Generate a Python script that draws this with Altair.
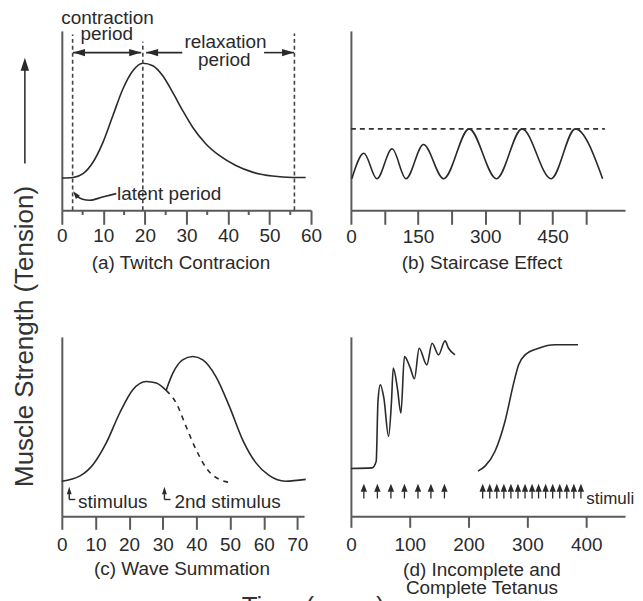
import altair as alt
import pandas as pd

FONT = "Liberation Sans"
INK = "#2a2a2a"
AXC = "#5a5a5a"

# ---------------- (a) twitch contraction ----------------
a_t = [0, 2.7, 5.1, 7.5, 9.9, 12.3, 14.7, 17.1, 19.5, 21.9, 24.3, 26.7, 29.1, 31.5, 34.7, 37.9, 41.9, 45.9, 50.7, 55.5, 58.7]
a_y = [18.0, 18.3, 20.4, 26.8, 37.9, 52.8, 67.6, 77.8, 82.0, 80.6, 75.0, 65.7, 55.6, 46.3, 37.0, 30.6, 25.0, 21.3, 19.1, 18.3, 18.3]
a_ticks = [0, 10, 20, 30, 40, 50, 60]
a_minor = [5, 15, 25, 35, 45, 55]
a_dash_t = [2.6, 19.5, 56.0]
a_dash_top = [98.0, 94.0, 98.5]
a_arrow_from = [2.7, 20.3, 48.7]
a_arrow_to = [19.1, 29.0, 55.9]
a_arrow_y = 87.9
a_head_left = [2.7, 20.3]
a_head_right = [19.1, 55.9]
a_labels = ["contraction", "period", "relaxation", "period"]
a_label_t = [11.0, 10.8, 39.4, 39.1]
a_label_y = [103.6, 94.8, 90.4, 80.2]
latent_t = [3.6, 5.0, 6.7, 9.8, 13.1]
latent_y = [7.8, 6.2, 5.6, 7.4, 9.3]
latent_tip = (2.7, 10.7)
latent_text = (13.3, 5.9)
ytitle_arrow_t = -8.9
ytitle_arrow_y = [26.1, 79.0]
ytitle_arrow_tip = 85.0

# ---------------- (b) staircase ----------------
b_t = [2, 29, 58, 92, 123, 162, 207, 264, 325, 382, 447, 501, 562]
b_y = [17.6, 31.8, 17.6, 34.3, 17.6, 36.7, 17.6, 45.4, 17.6, 45.4, 17.6, 45.4, 17.6]
b_ticks = [0, 75, 150, 225, 300, 375, 450, 525]
b_dash_t = [0, 567]
b_dash_y = 45.4

# ---------------- (c) wave summation ----------------
c1_t = [0, 5.3, 9.3, 13.2, 17.2, 21.1, 25.1, 28.1, 31.0]
c1_y = [19.6, 22.4, 28.9, 40.9, 57.6, 70.6, 75.2, 74.3, 70.2]
c2_t = [31.0, 33.0, 35.9, 38.9, 41.9, 45.8, 49.8, 53.7, 57.7, 61.6, 66.5, 72.5]
c2_y = [70.2, 79.8, 87.2, 89.1, 87.2, 77.9, 61.3, 42.8, 29.8, 22.8, 19.6, 20.6]
c_dash_t = [31.0, 34.0, 36.9, 39.9, 42.9, 46.8, 50.8]
c_dash_y = [70.2, 63.2, 50.2, 37.2, 27.0, 20.6, 18.7]
c_ticks = [0, 10, 20, 30, 40, 50, 60, 70]
c_stim_t = [2.2, 30.5]
c_stim_tip = 16.5
c_stim_stem = [12.6, 9.4]
c_stim_hook = 1.8
c_stim_labels = ["stimulus", "2nd stimulus"]
c_stim_label_t = [4.8, 33.5]
c_stim_label_y = 4.8
time_label = ("Time (msec)", 74.7, -54.8)

# ---------------- (d) tetanus ----------------
d1_t = [0, 36, 43, 46, 50, 56, 64, 69, 72, 79, 85, 91, 101, 108, 116, 129, 138, 149, 160, 166, 177]
d1_y = [26.7, 27.0, 30.7, 64.0, 73.3, 66.0, 44.6, 64.0, 82.6, 71.5, 57.6, 89.0, 82.6, 76.7, 93.7, 84.4, 96.5, 90.0, 97.8, 93.7, 90.0]
d2_t = [216, 228, 245, 262, 276, 285, 296, 319, 347, 386]
d2_y = [25.2, 28.0, 36.3, 53.0, 73.3, 84.4, 90.0, 93.7, 95.6, 95.6]
d_ticks = [0, 100, 200, 300, 400]
d_stim_t = [22, 45, 68, 91, 114, 136, 159,
            224, 236, 248, 260, 272, 284, 296, 308, 319, 331, 343, 355, 367, 379, 391]
d_stim_tip = 18.2
d_stim_stem = [10.0, 14.0]
d_stim_label = ("stimuli", 400.0, 6.7)

HEAD_LEFT = "M0,0L2,-0.6L2,0.6Z"
HEAD_RIGHT = "M0,0L-2,-0.6L-2,0.6Z"
HEAD_UP = "M0,0L-0.65,2L0.65,2Z"

YS = alt.Scale(domain=[0, 100], nice=False, zero=False)


def xscale(lo, hi):
    return alt.Scale(domain=[lo, hi], nice=False, zero=False)


def xaxis(values, tick, pad, title, tx, ty, expr=None):
    kw = dict(values=values, tickSize=tick, tickWidth=2, tickColor=AXC,
              domainColor=AXC, domainWidth=2, labelPadding=pad,
              labelFont=FONT, labelFontSize=19, labelColor=INK,
              labelFlush=False, labelOverlap=False, grid=False,
              title=title, titleFont=FONT, titleFontSize=19,
              titleFontWeight="normal", titleColor=INK, titleX=tx, titleY=ty,
              titleAlign="center", titleBaseline="middle", titleLineHeight=18)
    if expr:
        kw["labelExpr"] = expr
    return alt.Axis(**kw)


def yaxis(title=None):
    kw = dict(ticks=False, labels=False, grid=False, domainColor=AXC, domainWidth=2)
    if title:
        kw.update(title=title, titleFont=FONT, titleFontSize=26, titleFontWeight="normal",
                  titleColor="#333333", titleAngle=270, titleX=-37, titleY=306,
                  titleAlign="center", titleBaseline="middle")
    else:
        kw["title"] = None
    return alt.Axis(**kw)


class Panel:
    def __init__(self, xs, axx, axy):
        self.xs, self.axx, self.axy = xs, axx, axy
        self.layers = []

    def X(self):
        return alt.X("t:Q", scale=self.xs, axis=self.axx)

    def Y(self):
        return alt.Y("y:Q", scale=YS, axis=self.axy)

    def line(self, df, dash=None, detail=None, width=1.6):
        kw = dict(interpolate="monotone", color=INK, strokeWidth=width)
        if dash:
            kw["strokeDash"] = dash
        enc = dict(x=self.X(), y=self.Y())
        if detail:
            enc["detail"] = detail
        self.layers.append(alt.Chart(df).mark_line(**kw).encode(**enc))

    def heads(self, df, shape, size, angle=None):
        kw = dict(shape=shape, filled=True, size=size, color=INK, opacity=1, strokeWidth=0)
        if angle is not None:
            kw["angle"] = angle
        self.layers.append(alt.Chart(df).mark_point(**kw).encode(x=self.X(), y=self.Y()))

    def texts(self, df, align="left", size=19, color=INK):
        self.layers.append(alt.Chart(df).mark_text(
            align=align, baseline="alphabetic", font=FONT, fontSize=size, color=color
        ).encode(x=self.X(), y=self.Y(), text="label:N"))

    def vrules(self, df, dash=None, width=1.6, color=INK):
        kw = dict(color=color, strokeWidth=width)
        if dash:
            kw["strokeDash"] = dash
        self.layers.append(alt.Chart(df).mark_rule(**kw).encode(x=self.X(), y=self.Y(), y2="y2:Q"))

    def hrules(self, df, dash=None, width=1.6, color=INK):
        kw = dict(color=color, strokeWidth=width)
        if dash:
            kw["strokeDash"] = dash
        self.layers.append(alt.Chart(df).mark_rule(**kw).encode(x=self.X(), x2="t2:Q", y=self.Y()))

    def chart(self, w, h):
        return alt.layer(*self.layers).properties(width=w, height=h)


# ---------- panel a ----------
A = Panel(xscale(0, 60), xaxis(a_ticks, 14, 2, "(a) Twitch Contracion", 119, 52),
          yaxis("Muscle Strength (Tension)"))
A.line(pd.DataFrame({"t": a_t, "y": a_y}))
A.vrules(pd.DataFrame({"t": a_minor, "y": [0] * len(a_minor), "y2": [-2.6] * len(a_minor)}),
         width=2, color=AXC)
A.vrules(pd.DataFrame({"t": a_dash_t, "y": [0] * 3, "y2": a_dash_top}), dash=[4, 3], color="#444444")
A.hrules(pd.DataFrame({"t": a_arrow_from, "t2": a_arrow_to, "y": [a_arrow_y] * 3}))
A.heads(pd.DataFrame({"t": a_head_left, "y": [a_arrow_y] * 2}), HEAD_LEFT, 144)
A.heads(pd.DataFrame({"t": a_head_right, "y": [a_arrow_y] * 2}), HEAD_RIGHT, 144)
A.texts(pd.DataFrame({"t": a_label_t, "y": a_label_y, "label": a_labels}), align="center")
A.line(pd.DataFrame({"t": latent_t, "y": latent_y}))
A.heads(pd.DataFrame({"t": [latent_tip[0]], "y": [latent_tip[1]]}), HEAD_UP, 64, angle=322)
A.texts(pd.DataFrame({"t": [latent_text[0]], "y": [latent_text[1]], "label": ["latent period"]}))
A.vrules(pd.DataFrame({"t": [ytitle_arrow_t], "y": [ytitle_arrow_y[0]], "y2": [ytitle_arrow_y[1]]}),
         color="#333333")
A.heads(pd.DataFrame({"t": [ytitle_arrow_t], "y": [ytitle_arrow_tip]}), HEAD_UP, 169)
pa = A.chart(250, 180)

# ---------- panel b ----------
B = Panel(xscale(0, 612), xaxis(b_ticks, 14, 3, "(b) Staircase Effect", 131, 52,
                                expr="datum.value % 150 == 0 ? datum.label : ''"), yaxis())
B.line(pd.DataFrame({"t": b_t, "y": b_y}))
B.hrules(pd.DataFrame({"t": [b_dash_t[0]], "t2": [b_dash_t[1]], "y": [b_dash_y]}),
         dash=[5, 4], color="#333333")
pb = B.chart(275, 180)

# ---------- panel c ----------
C = Panel(xscale(0, 72), xaxis(c_ticks, 13, 6, "(c) Wave Summation", 120, 52), yaxis())
C.line(pd.DataFrame({"t": c1_t + c2_t, "y": c1_y + c2_y,
                     "seg": ["s1"] * len(c1_t) + ["s2"] * len(c2_t)}), detail="seg:N")
C.line(pd.DataFrame({"t": c_dash_t, "y": c_dash_y}), dash=[5, 5])
C.vrules(pd.DataFrame({"t": c_stim_t, "y": [c_stim_stem[0]] * 2, "y2": [c_stim_stem[1]] * 2}), width=1.4)
C.hrules(pd.DataFrame({"t": c_stim_t, "t2": [v + c_stim_hook for v in c_stim_t],
                       "y": [c_stim_stem[1]] * 2}), width=1.4)
C.heads(pd.DataFrame({"t": c_stim_t, "y": [c_stim_tip] * 2}), "M0,0L-0.65,2L0.65,2Z", 56)
C.texts(pd.DataFrame({"t": c_stim_label_t, "y": [c_stim_label_y] * 2, "label": c_stim_labels}))
C.texts(pd.DataFrame({"t": [time_label[1]], "y": [time_label[2]], "label": [time_label[0]]}),
        align="center", size=26, color="#333333")
pc = C.chart(243, 180)

# ---------- panel d ----------
D = Panel(xscale(0, 466), xaxis(d_ticks, 11, 8, ["(d) Incomplete and", "Complete Tetanus"], 131, 53),
          yaxis())
D.line(pd.DataFrame({"t": d1_t + d2_t, "y": d1_y + d2_y,
                     "seg": ["inc"] * len(d1_t) + ["comp"] * len(d2_t)}), detail="seg:N")
D.vrules(pd.DataFrame({"t": d_stim_t, "y": [d_stim_stem[0]] * len(d_stim_t),
                       "y2": [d_stim_stem[1]] * len(d_stim_t)}), width=1.3)
D.heads(pd.DataFrame({"t": d_stim_t, "y": [d_stim_tip] * len(d_stim_t)}), "M0,0L-0.8,2L0.8,2Z", 64)
D.texts(pd.DataFrame({"t": [d_stim_label[1]], "y": [d_stim_label[2]], "label": [d_stim_label[0]]}),
        size=17)
pdd = D.chart(275, 180)

chart = alt.concat(pa, pb, pc, pdd, columns=2, spacing={"row": 127, "column": 40},
                   bounds="flush").properties(
    padding={"left": 4, "top": 0, "right": 0, "bottom": 0}
).configure_view(strokeWidth=0)

chart.save("out.html", embed_options={"renderer": "svg", "actions": False})
